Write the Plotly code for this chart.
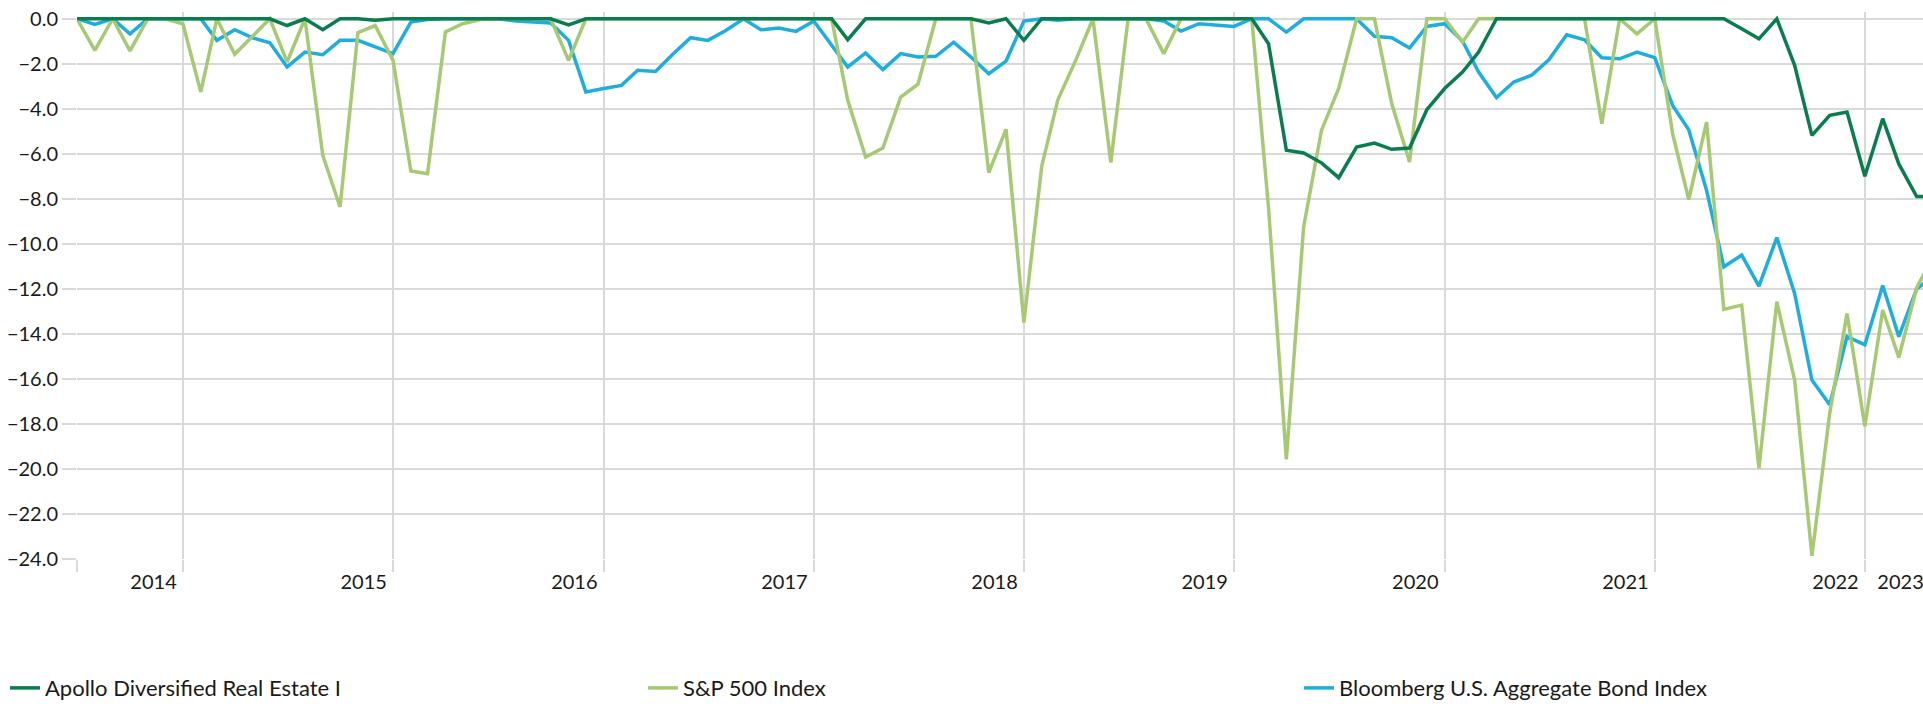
import pandas as pd
import plotly.graph_objects as go

# ---------------- data ----------------
try:
    months = pd.date_range("2014-06-30", periods=107, freq="ME")
except Exception:
    months = pd.date_range("2014-06-30", periods=107, freq="M")

apollo = [0, 0, 0, 0, 0, 0, 0, 0, 0, 0, 0, 0,
          -0.3, 0, -0.49, 0, 0, -0.07, 0, 0, 0, 0, 0, 0,
          0, 0, 0, 0, -0.27, 0, 0, 0, 0, 0, 0, 0,
          0, 0, 0, 0, 0, 0, 0, 0, -0.93, 0, 0, 0,
          0, 0, 0, 0, -0.19, 0, -0.96, 0, 0, 0, 0, 0,
          0, 0, 0, 0, 0, 0, 0, 0, -1.11, -5.84, -5.96, -6.4,
          -7.06, -5.7, -5.52, -5.8, -5.74, -4.04, -3.1, -2.37, -1.48, 0, 0, 0,
          0, 0, 0, 0, 0, 0, 0, 0, 0, 0, 0, -0.44,
          -0.89, 0, -2.07, -5.18, -4.29, -4.14, -7.0, -4.44, -6.45, -7.9, -7.9]

sp500 = [0, -1.4, 0, -1.43, 0, 0, -0.22, -3.25, 0, -1.58, -0.8, 0,
         -1.92, 0, -6.07, -8.36, -0.62, -0.3, -1.85, -6.76, -6.88, -0.59, -0.22, -0.03,
         0, 0, 0, 0, -1.85, 0, 0, 0, 0, 0, 0, 0,
         0, 0, 0, 0, 0, 0, 0, 0, -3.62, -6.14, -5.74, -3.48,
         -2.91, 0, 0, 0, -6.83, -4.91, -13.5, -6.55, -3.6, -1.85, 0, -6.39,
         0, 0, -1.55, 0, 0, 0, 0, 0, -8.4, -19.57, -9.25, -4.96,
         -3.08, 0, 0, -3.77, -6.36, 0, 0, -1.04, 0, 0, 0, 0,
         0, 0, 0, -4.66, 0, -0.67, 0, -5.1, -8.03, -4.59, -12.91, -12.72,
         -19.97, -12.57, -16.05, -23.86, -17.52, -13.09, -18.1, -12.94, -15.05, -11.95, -10.5]

bbg_agg = [0, -0.25, 0, -0.67, 0, 0, 0, 0, -0.96, -0.49, -0.84, -1.07,
           -2.14, -1.48, -1.6, -0.96, -0.96, -1.26, -1.55, -0.15, -0.03, 0, 0, 0,
           0, -0.1, -0.15, -0.19, -0.96, -3.25, -3.1, -2.96, -2.29, -2.34, -1.58, -0.84,
           -0.96, -0.52, 0, -0.49, -0.41, -0.56, -0.1, -1.2, -2.14, -1.52, -2.26, -1.55,
           -1.7, -1.67, -1.04, -1.7, -2.44, -1.88, -0.1, 0, -0.07, 0, 0, 0,
           0, 0, -0.1, -0.55, -0.22, -0.27, -0.34, 0, 0, -0.59, 0, 0,
           0, 0, -0.78, -0.84, -1.3, -0.34, -0.22, -0.99, -2.37, -3.5, -2.81, -2.51,
           -1.82, -0.71, -0.93, -1.73, -1.78, -1.48, -1.73, -3.85, -4.93, -7.62, -11.02, -10.5,
           -11.88, -9.72, -12.2, -16.05, -17.15, -14.12, -14.49, -11.85, -14.12, -12.0, -11.4]

series_names = ["Apollo Diversified Real Estate I", "S&P 500 Index",
                "Bloomberg U.S. Aggregate Bond Index"]

year_labels = ["2014", "2015", "2016", "2017", "2018", "2019", "2020", "2021", "2022", "2023"]
year_label_dates = ["2014-11-10", "2015-11-10", "2016-11-10", "2017-11-10", "2018-11-10",
                    "2019-11-10", "2020-11-10", "2021-11-10", "2022-11-10", "2023-03-03"]
grid_dates = ["2014-06-30", "2014-12-31", "2015-12-31", "2016-12-31", "2017-12-31",
              "2018-12-31", "2019-12-31", "2020-12-31", "2021-12-31", "2022-12-31"]
y_ticks = [0, -2, -4, -6, -8, -10, -12, -14, -16, -18, -20, -22, -24]

# ---------------- style ----------------
DARK_GREEN = "#0a7d4f"
LIGHT_GREEN = "#a6c974"
BLUE = "#1daedf"
GRID = "#d9d9d9"
FONT = "Segoe UI, Lato, Noto Sans, sans-serif"
TXT = "#1a1a1a"
LW = 3.5

W, H = 1923, 704
ML, MR, MT, MB = 77, 0, 12, 145
PW = W - ML - MR

fig = go.Figure()
fig.add_trace(go.Scatter(x=months, y=bbg_agg, mode="lines", name=series_names[2],
                         line=dict(color=BLUE, width=LW), legend="legend3"))
fig.add_trace(go.Scatter(x=months, y=sp500, mode="lines", name=series_names[1],
                         line=dict(color=LIGHT_GREEN, width=LW), legend="legend2"))
fig.add_trace(go.Scatter(x=months, y=apollo, mode="lines", name=series_names[0],
                         line=dict(color=DARK_GREEN, width=LW), legend="legend"))

def leg(px):
    return dict(x=(px - ML) / PW, y=-0.236, xanchor="left", yanchor="middle",
                orientation="h", font=dict(family=FONT, size=22, color=TXT),
                bgcolor="rgba(0,0,0,0)", borderwidth=0, itemwidth=30)

fig.update_layout(
    width=W, height=H,
    margin=dict(l=ML, r=MR, t=MT, b=MB, pad=0, autoexpand=False),
    plot_bgcolor="white", paper_bgcolor="white",
    font=dict(family=FONT, size=20, color=TXT),
    showlegend=True,
    legend=leg(5), legend2=leg(643), legend3=leg(1299),
    xaxis=dict(
        type="date",
        range=["2014-06-30", "2023-04-11"],
        tickmode="array", tickvals=year_label_dates, ticktext=year_labels,
        ticks="outside", ticklen=5, tickcolor="rgba(0,0,0,0)",
        ticklabeloverflow="allow",
        showgrid=False, zeroline=False, showline=False,
        tickfont=dict(family=FONT, size=20, color=TXT),
        minor=dict(tickmode="array", tickvals=grid_dates, showgrid=True,
                   gridcolor=GRID, gridwidth=2, ticks="outside", ticklen=12,
                   tickcolor=GRID, tickwidth=2),
    ),
    yaxis=dict(
        range=[-24, 0.3],
        tickmode="array", tickvals=y_ticks, tickformat=".1f",
        ticks="outside", ticklen=14, tickcolor=GRID, tickwidth=2,
        showgrid=True, gridcolor=GRID, gridwidth=2,
        zeroline=False, showline=False,
        tickfont=dict(family=FONT, size=20, color=TXT),
    ),
)

fig.write_html("out.html", config={"displayModeBar": False},
               post_script="document.body.style.margin='0';document.body.style.overflow='hidden';")
